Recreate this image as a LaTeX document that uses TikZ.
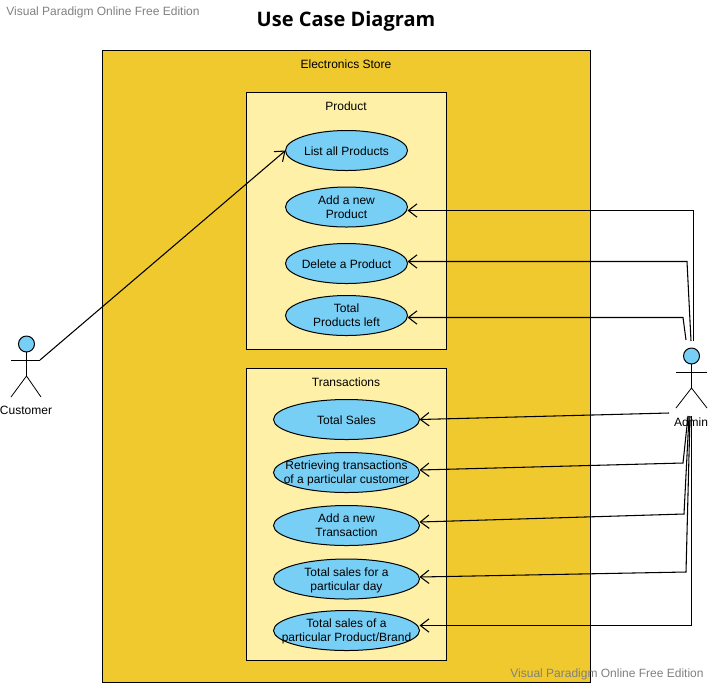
\documentclass[tikz,border=0pt]{standalone}
\usepackage{fontspec}
\setmainfont{Liberation Sans}
\newfontfamily\titlefont{Open Sans}
\usetikzlibrary{shapes.geometric,arrows.meta}
\definecolor{storecolor}{HTML}{F0C92F}
\definecolor{panelcolor}{HTML}{FFF0A8}
\definecolor{casecolor}{HTML}{78CFF5}
\tikzset{
  every node/.style={font=\fontsize{9}{10.5}\selectfont},
  panel/.style={draw, rectangle, line width=0.75pt, anchor=north west, inner sep=0pt, outer sep=0pt},
  usecase/.style={draw, ellipse, fill=casecolor, line width=0.75pt, inner xsep=-10pt, inner ysep=0pt, outer sep=0pt, align=center, text depth=0pt, execute at begin node={\rule{0pt}{8pt}}, minimum width=91.5pt, minimum height=30pt},
  widecase/.style={usecase, minimum width=109.5pt},
  twolines/.style={execute at begin node={\rule{0pt}{9.5pt}}},
  head/.style={draw, circle, fill=casecolor, line width=0.75pt, inner sep=0pt, outer sep=0pt, minimum size=12pt},
  link/.style={draw, line width=0.8pt, -{Straight Barb[length=6.5pt,width=10pt]}},
  stick/.style={draw, line width=0.6pt},
  mark text/.style={text=black!50, font=\fontsize{9}{10.5}\selectfont}
}
\begin{document}
\begin{tikzpicture}[x=0.75pt,y=-0.75pt]
\useasboundingbox (0,0) rectangle (709,683);
\node[mark text] (mark1) at (103,12) {Visual Paradigm Online Free Edition};
\node[font=\titlefont\bfseries\fontsize{15}{18}\selectfont] (title) at (346,21) {Use Case Diagram};

\node[panel, fill=storecolor, minimum width=366pt, minimum height=474pt] (store) at (102.5,50.5) {};
\node (storelabel) at (346,64) {Electronics Store};
\node[panel, fill=panelcolor, minimum width=150pt, minimum height=192.75pt] (product) at (246.5,92.5) {};
\node (productlabel) at (346,106) {Product};
\node[panel, fill=panelcolor, minimum width=150pt, minimum height=219pt] (trans) at (246.5,368.5) {};
\node (translabel) at (346,382) {Transactions};
\node[mark text] (mark2) at (607,674) {Visual Paradigm Online Free Edition};

\node[usecase] (list) at (346.5,150.5) {List all Products};
\node[usecase, twolines] (add) at (346.5,207) {Add a new\\Product};
\node[usecase] (delete) at (346.5,263.5) {Delete a Product};
\node[usecase, twolines] (left) at (346.5,315.5) {Total\\Products left};
\node[widecase] (sales) at (346.5,419.5) {Total Sales};
\node[widecase, twolines] (retrieve) at (346.5,472.5) {Retrieving transactions\\of a particular customer};
\node[widecase, twolines] (addtrans) at (346.5,525.5) {Add a new\\Transaction};
\node[widecase, twolines] (day) at (346.5,579) {Total sales for a\\particular day};
\node[widecase, twolines] (brand) at (346.5,630.5) {Total sales of a\\particular Product/Brand};

% customer
\node[head] (customer) at (26.5,344) {};
\node (customerlabel) at (26,410) {Customer};
\coordinate (cbody) at (26.5,376);
\coordinate (cfrom) at (40,360);
\path[stick] (customer) -- (cbody);
\path[stick] (11,360) -- (cfrom);
\path[stick] (11,397) -- (cbody) -- (41,397);
\path[link] (cfrom) -- (list.west);

% admin
\node[head] (admin) at (691.5,356) {};
\node (adminlabel) at (691,422) {Admin};
\coordinate (abody) at (691.5,388);
\path[stick] (admin) -- (abody);
\path[stick] (676,372) -- (707,372);
\path[stick] (676,408) -- (abody) -- (707,408);

\coordinate (a1) at (693.5,341);
\coordinate (a2) at (691,341);
\coordinate (a3) at (686,340);
\coordinate (a4) at (669,413);
\coordinate (a5) at (688,416);
\coordinate (a6) at (689,416);
\coordinate (a7) at (690,416);
\coordinate (a8) at (691.5,416);
\path[link] (a1) -- (693.5,210.5) -- (add.east |- 0,210.5);
\path[link] (a2) -- (687,261.5) -- (delete.east |- 0,261.5);
\path[link] (a3) -- (683,317.5) -- (left.east |- 0,317.5);
\path[link] (a4) -- (sales.east);
\path[link] (a5) -- (683,463) -- (retrieve.east |- 0,470);
\path[link] (a6) -- (684,514) -- (addtrans.east |- 0,522);
\path[link] (a7) -- (686,572) -- (day.east |- 0,577);
\path[link] (a8) -- (691.5,625.5) -- (brand.east |- 0,625.5);
\end{tikzpicture}
\end{document}
